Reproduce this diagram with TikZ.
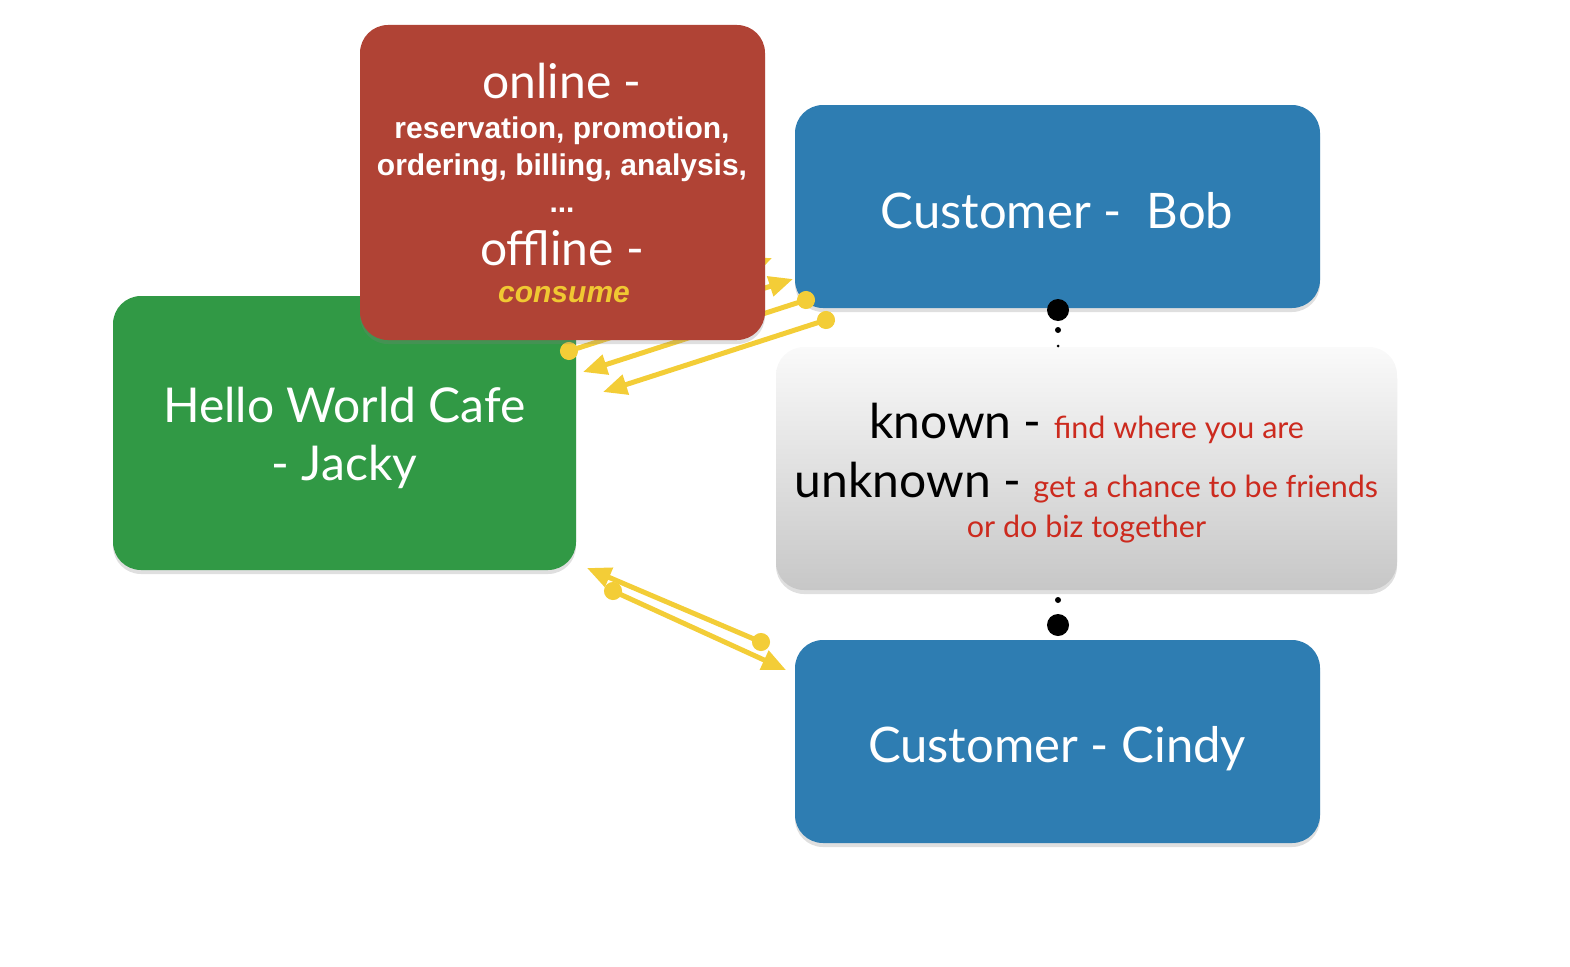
\documentclass[tikz,border=0pt]{standalone}
\usepackage{fontspec}
\setmainfont{Lato}
\newfontfamily\heavyfont{Liberation Sans}
\usetikzlibrary{arrows.meta, shadows}
\definecolor{cardred}{RGB}{176,67,53}
\definecolor{cardgreen}{RGB}{49,153,69}
\definecolor{cardblue}{RGB}{46,125,178}
\definecolor{linkyellow}{RGB}{243,205,55}
\definecolor{notered}{RGB}{204,42,30}
\definecolor{consumeyellow}{RGB}{240,200,50}
\tikzstyle{card} = [rounded corners=28pt, draw=none, inner sep=0pt, drop shadow={opacity=0.25, shadow xshift=0pt, shadow yshift=-4pt}]
\tikzstyle{flow} = [line width=5pt, linkyellow, {Circle[length=18pt]}-{Triangle[length=24pt,width=20pt]}, shorten <=-9pt]
\tikzstyle{bigtext} = [anchor=base, inner sep=0pt, font=\fontsize{48}{52}\selectfont]
\tikzstyle{boldtext} = [anchor=base, inner sep=0pt, text=white, font=\fontsize{30}{34}\selectfont\heavyfont\bfseries]

\begin{document}
\begin{tikzpicture}[x=1pt, y=-1pt]
		\useasboundingbox (0,0) rectangle (1570,966);
		% cards
		\node [card,fill=cardgreen,minimum width=463pt,minimum height=274pt](cafe) at (344.5,433){};
		\node [card,top color=white!98!black,bottom color=black!22,minimum width=621pt,minimum height=243pt](note) at (1086.5,468.5){};
		\node [card,fill=cardblue,minimum width=525pt,minimum height=203pt](bob) at (1057.5,206.5){};
		\node [card,fill=cardblue,minimum width=525pt,minimum height=203pt](cindy) at (1057.5,741.5){};
		
		% arrow ends
		\coordinate (c0s) at (600,328);  \coordinate (c0e) at (772,258);
		\coordinate (c1s) at (569,351);  \coordinate (c1e) at (793,279);
		\coordinate (c2s) at (806,300);  \coordinate (c2e) at (583,372);
		\coordinate (c3s) at (826,320);  \coordinate (c3e) at (603,392);
		\coordinate (c4s) at (761,642);  \coordinate (c4e) at (587,568);
		\coordinate (c5s) at (613,591);  \coordinate (c5e) at (786,670);
		\draw[flow](c0s)--(c0e);
		\draw[flow](c1s)--(c1e);
		\draw[flow](c2s)--(c2e);
		\draw[flow](c3s)--(c3e);
		\draw[flow](c4s)--(c4e);
		\draw[flow](c5s)--(c5e);
		
		% dots between the customers
		\fill (1058,310) circle (11);
		\fill (1058,330) circle (3);
		\fill (1058,346) circle (1.5);
		\fill (1058,600) circle (3);
		\fill (1058,625) circle (11);
		
		\node [card,fill=cardred,minimum width=405pt,minimum height=315pt](offer) at (562.5,182.5){};
		
		% texts
		\node [bigtext,text=white](online) at (562,98){online -};
		\node [boldtext](rline1) at (562,138){reservation, promotion,};
		\node [boldtext](rline2) at (562,175){ordering, billing, analysis,};
		\node [boldtext](rline3) at (562,212){...};
		\node [bigtext,text=white](offline) at (562,265){offline -};
		\node [boldtext,text=consumeyellow,font=\fontsize{30}{34}\selectfont\heavyfont\bfseries\itshape](consume) at (564,302){consume};
		
		\node [bigtext,text=white](hello) at (344.5,422){Hello World Cafe};
		\node [bigtext,text=white](jacky) at (344.5,480){- Jacky};
		\node [bigtext,text=white,font=\fontsize{49}{53}\selectfont](bobtext) at (1057,228){Customer -\ \ Bob};
		\node [bigtext,text=white,font=\fontsize{49}{53}\selectfont](cindytext) at (1057,762){Customer - Cindy};
		
		\node [bigtext](known) at (1086.5,438){known - {\color{notered}\fontsize{30.5}{34}\selectfont find where you are}};
		\node [bigtext](unknown) at (1086.5,497){unknown - {\color{notered}\fontsize{30.5}{34}\selectfont get a chance to be friends}};
		\node [bigtext,text=notered,font=\fontsize{30.5}{34}\selectfont](biz) at (1086.5,537){or do biz together};
		\end{tikzpicture}
\end{document}
